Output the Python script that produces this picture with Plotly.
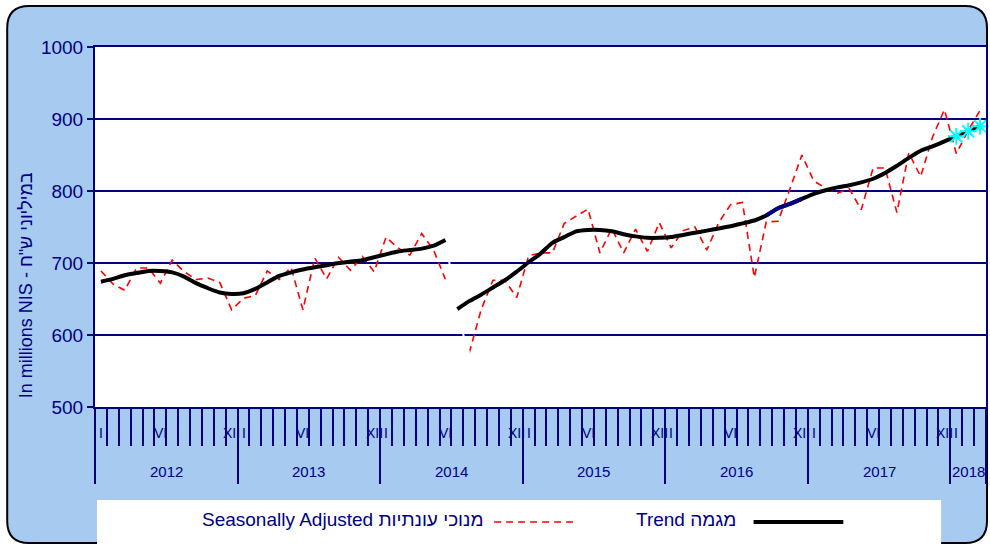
import plotly.graph_objects as go

# ---------------- data ----------------
years = [2012, 2013, 2014, 2015, 2016, 2017, 2018]
months_per_year = [12, 12, 12, 12, 12, 12, 3]
month_tick_labels = {1: "I", 6: "VI", 12: "XII"}

seasonally_adjusted = [
    689, 671, 662, 693, 693, 672, 704, 688, 677, 679, 673, 635,   # 2012
    651, 655, 689, 677, 694, 635, 707, 678, 708, 690, 709, 688,   # 2013
    736, 721, 711, 741, 718, 677, None, 575, 635, 676, 676, 652,  # 2014
    710, 714, 714, 755, 765, 775, 714, 748, 714, 747, 716, 756,   # 2015
    721, 745, 750, 718, 756, 781, 784, 680, 757, 758, 803, 850,   # 2016
    814, 804, 797, 803, 774, 832, 832, 770, 853, 820, 875, 913,   # 2017
    852, 884, 912,                                                # 2018
]

trend = [
    674, 678, 683, 686, 689, 689, 687, 681, 672, 665, 659, 657,   # 2012
    658, 664, 673, 682, 687, 691, 694, 697, 700, 702, 704, 708,   # 2013
    712, 716, 718, 720, 724, 732, 636, 647, 656, 666, 676, 688,   # 2014
    701, 713, 728, 736, 744, 746, 746, 744, 740, 737, 735, 735,   # 2015
    736, 739, 742, 745, 748, 751, 755, 759, 766, 776, 782, 789,   # 2016
    796, 801, 805, 808, 812, 817, 825, 835, 846, 856, 862, 869,   # 2017
    876, 883, 890,                                                # 2018
]

series_break = 30          # series restart in July 2014
highlight_start, highlight_end = 56, 59   # navy part of trend
estimate_start = 72        # last points marked with asterisks

seasonal_name = "Seasonally Adjusted מנוכי עונתיות"
trend_name = "Trend מגמה"
y_title = 'In millions NIS - במיליוני ש"ח'

# ---------------- style ----------------
NAVY = "#000080"
BG = "#A6CAF0"
FONT = "Arial, Liberation Sans, DejaVu Sans, sans-serif"
W, H = 990, 545
L, R, T, B = 95, 2, 47, 138
PW, PH = W - L - R, H - T - B


def px_x(p):
    """pixel x -> paper fraction"""
    return (p - L) / PW


def px_y(p):
    """pixel y -> paper fraction"""
    return 1 - (p - T) / PH


months = []
for yr, n in zip(years, months_per_year):
    for m in range(1, n + 1):
        months.append((yr, m))
n_months = len(months)
x = list(range(n_months))

fig = go.Figure()

# seasonally adjusted (dashed red)
for xs, ys in ((x[:series_break], seasonally_adjusted[:series_break]),
               (x[series_break:], seasonally_adjusted[series_break:])):
    fig.add_trace(go.Scatter(x=xs, y=ys, mode="lines", hoverinfo="skip",
                             line=dict(color="#FF0000", width=1.6, dash="7px,5px")))

# white connectors across the break
sa_next = next(i for i in range(series_break, n_months) if seasonally_adjusted[i] is not None)
fig.add_trace(go.Scatter(x=[x[series_break - 1], x[sa_next]],
                         y=[seasonally_adjusted[series_break - 1], seasonally_adjusted[sa_next]],
                         mode="lines", line=dict(color="white", width=2), hoverinfo="skip"))
fig.add_trace(go.Scatter(x=[x[series_break - 1], x[series_break]],
                         y=[trend[series_break - 1], trend[series_break]],
                         mode="lines", line=dict(color="white", width=2), hoverinfo="skip"))

# trend (black)
for xs, ys in ((x[:series_break], trend[:series_break]),
               (x[series_break:], trend[series_break:])):
    fig.add_trace(go.Scatter(x=xs, y=ys, mode="lines", hoverinfo="skip",
                             line=dict(color="black", width=4, shape="spline", smoothing=0.6)))

fig.add_trace(go.Scatter(x=x[highlight_start:highlight_end + 1],
                         y=trend[highlight_start:highlight_end + 1],
                         mode="lines", hoverinfo="skip",
                         line=dict(color=NAVY, width=4, shape="spline", smoothing=0.6)))

fig.add_trace(go.Scatter(x=x[estimate_start:], y=trend[estimate_start:], mode="markers",
                         hoverinfo="skip", cliponaxis=False,
                         marker=dict(symbol="asterisk-open", size=14, color="#00FFFF",
                                     line=dict(color="#00FFFF", width=2))))

# ---------------- shapes ----------------
shapes = []
x0, y0, x1, y1, r = 7, 6, 989, 543, 22
path = (f"M {px_x(x0 + r)},{px_y(y0)} L {px_x(x1 - r)},{px_y(y0)} "
        f"Q {px_x(x1)},{px_y(y0)} {px_x(x1)},{px_y(y0 + r)} "
        f"L {px_x(x1)},{px_y(y1 - r)} Q {px_x(x1)},{px_y(y1)} {px_x(x1 - r)},{px_y(y1)} "
        f"L {px_x(x0 + r)},{px_y(y1)} Q {px_x(x0)},{px_y(y1)} {px_x(x0)},{px_y(y1 - r)} "
        f"L {px_x(x0)},{px_y(y0 + r)} Q {px_x(x0)},{px_y(y0)} {px_x(x0 + r)},{px_y(y0)} Z")
shapes.append(dict(type="path", xref="paper", yref="paper", path=path, layer="below",
                   fillcolor=BG, line=dict(color="black", width=2)))
shapes.append(dict(type="rect", xref="paper", yref="paper", layer="below",
                   x0=0, x1=1, y0=0, y1=1, fillcolor="white", line=dict(width=0)))
shapes.append(dict(type="rect", xref="paper", yref="paper", layer="below",
                   x0=px_x(97), x1=px_x(943), y0=px_y(560), y1=px_y(500),
                   fillcolor="white", line=dict(width=0)))
# legend samples
shapes.append(dict(type="line", xref="paper", yref="paper",
                   x0=px_x(495), x1=px_x(576), y0=px_y(522), y1=px_y(522),
                   line=dict(color="#FF0000", width=1.6, dash="7px,5px")))
shapes.append(dict(type="line", xref="paper", yref="paper",
                   x0=px_x(755), x1=px_x(845), y0=px_y(522), y1=px_y(522),
                   line=dict(color="black", width=4)))

# ---------------- annotations ----------------
ann = []
for i, (yr, m) in enumerate(months):
    if m in month_tick_labels:
        ann.append(dict(x=i, xref="x", y=px_y(433), yref="paper", showarrow=False,
                        text=month_tick_labels[m], font=dict(size=14, color=NAVY),
                        xanchor="center", yanchor="middle"))
start = 0
for yr, n in zip(years, months_per_year):
    ann.append(dict(x=start + (n - 1) / 2, xref="x", y=px_y(471), yref="paper",
                    showarrow=False, text=str(yr), font=dict(size=15, color=NAVY),
                    xanchor="center", yanchor="middle"))
    start += n

ann.append(dict(x=px_x(26), y=px_y(285), xref="paper", yref="paper", showarrow=False,
                text=y_title, textangle=-90, font=dict(size=18, color=NAVY),
                xanchor="center", yanchor="middle"))
ann.append(dict(x=px_x(344), y=px_y(519), xref="paper", yref="paper", showarrow=False,
                text=seasonal_name, font=dict(size=19, color=NAVY),
                xanchor="center", yanchor="middle"))
ann.append(dict(x=px_x(687), y=px_y(519), xref="paper", yref="paper", showarrow=False,
                text=trend_name, font=dict(size=19, color=NAVY),
                xanchor="center", yanchor="middle"))

year_bounds = [-0.5]
for n in months_per_year:
    year_bounds.append(year_bounds[-1] + n)
month_bounds = [i - 0.5 for i in range(n_months + 1)]

fig.update_layout(
    width=W, height=H, margin=dict(l=L, r=R, t=T, b=B),
    paper_bgcolor="white", plot_bgcolor="rgba(0,0,0,0)",
    showlegend=False, font=dict(family=FONT, color=NAVY),
    shapes=shapes, annotations=ann,
)
fig.update_xaxes(
    range=[-0.5, n_months - 0.5], showgrid=False, zeroline=False,
    showline=True, linecolor=NAVY, linewidth=2, mirror=True,
    tickmode="array", tickvals=year_bounds, ticks="outside", ticklen=75,
    tickwidth=2, tickcolor=NAVY, showticklabels=False,
    minor=dict(tickmode="array", tickvals=month_bounds, ticks="outside",
               ticklen=37, tickwidth=2, tickcolor=NAVY),
)
fig.update_yaxes(
    range=[500, 1000], tickmode="linear", tick0=500, dtick=100,
    showgrid=True, gridcolor=NAVY, gridwidth=2, zeroline=False,
    showline=True, linecolor=NAVY, linewidth=2, mirror=True,
    ticks="outside", ticklen=6, tickwidth=2, tickcolor=NAVY,
    tickfont=dict(size=19, color=NAVY, family=FONT),
)

# remove the default page margin so the figure sits at the window's top-left corner
page_script = ("document.body.style.margin='0';"
               "document.body.style.overflow='hidden';")
fig.write_html("out.html", post_script=page_script,
               config={"displayModeBar": False})
